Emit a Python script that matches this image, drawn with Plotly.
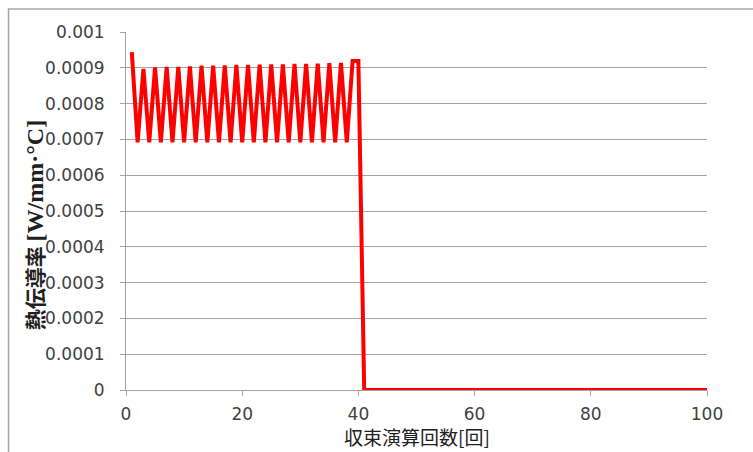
import plotly.graph_objects as go

# Convergence history of the thermal conductivity
iterations = list(range(1, 101))
conductivity = [
    0.000944, 0.000692, 0.000897, 0.000692, 0.000901, 0.000692, 0.000903, 0.000692, 0.000903, 0.000692,
    0.000904, 0.000692, 0.000906, 0.000692, 0.000906, 0.000692, 0.000907, 0.000692, 0.000908, 0.000692,
    0.000908, 0.000692, 0.000909, 0.000692, 0.000910, 0.000692, 0.000910, 0.000692, 0.000911, 0.000692,
    0.000911, 0.000692, 0.000912, 0.000692, 0.000913, 0.000692, 0.000914, 0.000692, 0.000919, 0.000919,
    0.0, 0.0, 0.0, 0.0, 0.0, 0.0, 0.0, 0.0, 0.0, 0.0,
    0.0, 0.0, 0.0, 0.0, 0.0, 0.0, 0.0, 0.0, 0.0, 0.0,
    0.0, 0.0, 0.0, 0.0, 0.0, 0.0, 0.0, 0.0, 0.0, 0.0,
    0.0, 0.0, 0.0, 0.0, 0.0, 0.0, 0.0, 0.0, 0.0, 0.0,
    0.0, 0.0, 0.0, 0.0, 0.0, 0.0, 0.0, 0.0, 0.0, 0.0,
    0.0, 0.0, 0.0, 0.0, 0.0, 0.0, 0.0, 0.0, 0.0, 0.0,
]

y_tick_values = [0, 0.0001, 0.0002, 0.0003, 0.0004, 0.0005, 0.0006, 0.0007, 0.0008, 0.0009, 0.001]
y_tick_labels = ["0", "0.0001", "0.0002", "0.0003", "0.0004", "0.0005",
                 "0.0006", "0.0007", "0.0008", "0.0009", "0.001"]
x_tick_values = [0, 20, 40, 60, 80, 100]
x_tick_labels = ["0", "20", "40", "60", "80", "100"]

x_title = "収束演算回数[回]"
y_title = "熱伝導率 "
y_unit = "[W/mm·°C]"

GRID = "#a3a3a3"
TEXT = "#404040"

fig = go.Figure()
fig.add_trace(go.Scatter(
    x=iterations,
    y=conductivity,
    mode="lines",
    line=dict(color="#ff0000", width=4),
    showlegend=False,
))

fig.update_layout(
    width=753,
    height=452,
    margin=dict(l=126, r=46, t=32, b=62),
    paper_bgcolor="white",
    plot_bgcolor="white",
    font=dict(family="DejaVu Sans", size=17, color=TEXT),
    xaxis=dict(
        range=[0, 100],
        tickvals=x_tick_values,
        ticktext=x_tick_labels,
        showgrid=False,
        zeroline=False,
        showline=True,
        linecolor=GRID,
        linewidth=1,
        ticks="outside",
        ticklen=5,
        tickcolor=GRID,
        ticklabelstandoff=4,
        tickfont=dict(family="DejaVu Sans", size=17, color=TEXT),
    ),
    yaxis=dict(
        range=[0, 0.0010002],
        tickvals=y_tick_values,
        ticktext=y_tick_labels,
        showgrid=True,
        gridcolor=GRID,
        gridwidth=1,
        zeroline=False,
        showline=True,
        linecolor=GRID,
        linewidth=1,
        ticks="outside",
        ticklen=5,
        tickcolor=GRID,
        ticklabelstandoff=12,
        tickfont=dict(family="DejaVu Sans", size=17, color=TEXT),
    ),
    shapes=[
        # outer chart frame
        dict(type="rect", xref="paper", yref="paper",
             x0=-0.2022, x1=1.2, y0=-0.3, y1=1.0642,
             line=dict(color="#a6a6a6", width=1.5), layer="below"),
    ],
    annotations=[
        dict(text=x_title, xref="paper", yref="paper", x=0.5, y=-0.1285,
             showarrow=False, xanchor="center", yanchor="middle",
             font=dict(family="Noto Sans CJK JP", size=19, color="#202020")),
        dict(text="<b>" + y_title + "<span style='font-family:Liberation Serif;font-size:24px'>"
                  + y_unit + "</span></b>",
             xref="paper", yref="paper", x=-0.158, y=0.461, textangle=-90,
             showarrow=False, xanchor="center", yanchor="middle",
             font=dict(family="Noto Sans CJK JP", size=21, color="#202020")),
    ],
)

fig.write_html("out.html")
